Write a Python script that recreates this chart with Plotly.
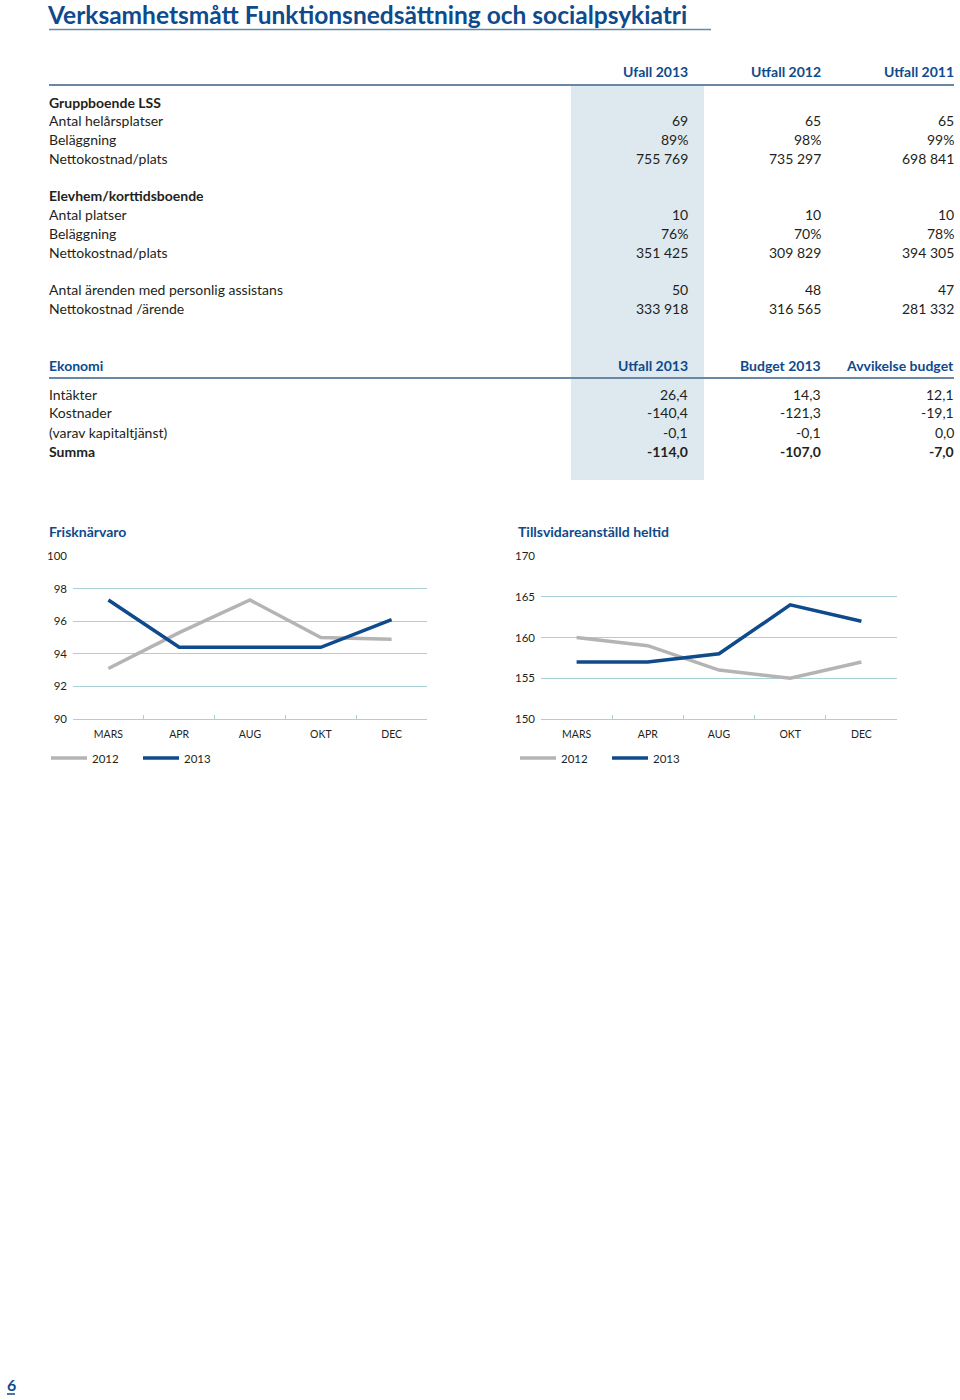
import plotly.graph_objects as go

W, H = 960, 1400
M = 20  # figure margin; all positions below are given in page pixels and converted
BLUE = "#0f4a8c"
GRAY = "#b4b4b4"
GRID = "#a9d0d6"
TEXT = "#231f20"
SHADE = "#dde9ef"
RULE = "#6a88a6"
FONT = "Lato"

# ---------------- data ----------------
title = "Verksamhetsmått Funktionsnedsättning och socialpsykiatri"

table1_header = ["Ufall 2013", "Utfall 2012", "Utfall 2011"]
table1_labels = ["Gruppboende LSS", "Antal helårsplatser", "Beläggning", "Nettokostnad/plats", "",
                 "Elevhem/korttidsboende", "Antal platser", "Beläggning", "Nettokostnad/plats", "",
                 "Antal ärenden med personlig assistans", "Nettokostnad /ärende"]
table1_bold = [True, False, False, False, False, True, False, False, False, False, False, False]
utfall_2013 = ["", "69", "89%", "755 769", "", "", "10", "76%", "351 425", "", "50", "333 918"]
utfall_2012 = ["", "65", "98%", "735 297", "", "", "10", "70%", "309 829", "", "48", "316 565"]
utfall_2011 = ["", "65", "99%", "698 841", "", "", "10", "78%", "394 305", "", "47", "281 332"]

table2_header = ["Ekonomi", "Utfall 2013", "Budget 2013", "Avvikelse budget"]
table2_labels = ["Intäkter", "Kostnader", "(varav kapitaltjänst)", "Summa"]
table2_bold = [False, False, False, True]
eko_utfall = ["26,4", "-140,4", "-0,1", "-114,0"]
eko_budget = ["14,3", "-121,3", "-0,1", "-107,0"]
eko_avvik = ["12,1", "-19,1", "0,0", "-7,0"]

months = ["MARS", "APR", "AUG", "OKT", "DEC"]
frisk_2012 = [93.1, 95.3, 97.3, 95.0, 94.9]
frisk_2013 = [97.3, 94.4, 94.4, 94.4, 96.1]
tills_2012 = [160, 159, 156, 155, 157]
tills_2013 = [157, 157, 158, 164, 162]

chart_titles = ["Frisknärvaro", "Tillsvidareanställd heltid"]

# ---------------- helpers ----------------
def px(x):
    return (x - M) / (W - 2 * M)

def py(y):
    return 1 - (y - M) / (H - 2 * M)

fig = go.Figure()
annotations = []
shapes = []

def text(x, y, s, anchor="left", size=14, color=TEXT, bold=False):
    annotations.append(dict(
        x=px(x), y=py(y), xref="paper", yref="paper", text=("<b>%s</b>" % s) if bold else s,
        showarrow=False, xanchor=anchor, yanchor="middle", borderpad=0,
        font=dict(family=FONT, size=size, color=color)))

def hline(x0, x1, y, color, width):
    shapes.append(dict(type="line", xref="paper", yref="paper", x0=px(x0), x1=px(x1),
                       y0=py(y), y1=py(y), line=dict(color=color, width=width)))

# title underline
hline(49, 711, 29.5, RULE, 1.5)

# shaded column
shapes.append(dict(type="rect", xref="paper", yref="paper", x0=px(571), x1=px(704),
                   y0=py(480), y1=py(86), fillcolor=SHADE, line=dict(width=0), layer="below"))

col_right = [689, 822, 955]

# table 1
for j, h in enumerate(table1_header):
    text(col_right[j], 72, h, anchor="right", color=BLUE, bold=True)
hline(49, 954, 85, RULE, 2)
row0, step = 102, 18.8
for i, lab in enumerate(table1_labels):
    y = row0 + i * step
    if lab:
        text(48, y, lab, bold=table1_bold[i])
    for j, col in enumerate([utfall_2013, utfall_2012, utfall_2011]):
        if col[i]:
            text(col_right[j], y, col[i], anchor="right")

# table 2
text(48, 365, table2_header[0], color=BLUE, bold=True)
for j, h in enumerate(table2_header[1:]):
    text(col_right[j], 365, h, anchor="right", color=BLUE, bold=True)
hline(49, 954, 378, RULE, 2)
for i, lab in enumerate(table2_labels):
    y = 394 + i * 19
    text(48, y, lab, bold=table2_bold[i])
    for j, col in enumerate([eko_utfall, eko_budget, eko_avvik]):
        text(col_right[j], y, col[i], anchor="right", bold=table2_bold[i])

# chart titles
text(48, 531, chart_titles[0], color=BLUE, bold=True)
text(517, 531, chart_titles[1], color=BLUE, bold=True)

# page number
text(11, 1384, "6", anchor="center", size=16, color=BLUE, bold=True)
hline(7, 15, 1394, BLUE, 1.5)

# ---------------- charts ----------------
series = [
    ("x", "y", "legend", frisk_2012, frisk_2013),
    ("x2", "y2", "legend2", tills_2012, tills_2013),
]
for xa, ya, lg, s12, s13 in series:
    fig.add_trace(go.Scatter(x=months, y=s12, mode="lines", name="2012", xaxis=xa, yaxis=ya,
                             legend=lg, line=dict(color=GRAY, width=3.5)))
    fig.add_trace(go.Scatter(x=months, y=s13, mode="lines", name="2013", xaxis=xa, yaxis=ya,
                             legend=lg, line=dict(color=BLUE, width=3.5)))

ydom = [py(719), py(556)]
xcommon = dict(type="category", showgrid=False, showline=True, linecolor=GRID, linewidth=1,
               ticks="inside", tickson="boundaries", ticklen=4, tickcolor=GRID,
               tickfont=dict(family=FONT, size=10.5, color=TEXT), ticklabelstandoff=5,
               range=[-0.5, 4.5], fixedrange=True)
ycommon = dict(showgrid=True, gridcolor=GRID, gridwidth=1, zeroline=False, showline=False,
               ticks="", tickfont=dict(family=FONT, size=11.5, color=TEXT), ticklabelstandoff=5,
               fixedrange=True)

legcommon = dict(orientation="h", yanchor="middle", xanchor="left", bgcolor="rgba(0,0,0,0)",
                 font=dict(family=FONT, size=11.5, color=TEXT), entrywidth=41, entrywidthmode="pixels",
                 itemwidth=36)

fig.update_layout(
    width=W, height=H, margin=dict(l=M, r=M, t=M, b=M),
    paper_bgcolor="white", plot_bgcolor="white",
    title=dict(text="<b>%s</b>" % title, xref="container", yref="container",
               x=48 / W, y=1 - 15.5 / H, xanchor="left", yanchor="middle",
               font=dict(family=FONT, size=24.5, color=BLUE), automargin=False),
    xaxis=dict(domain=[px(73), px(427)], anchor="y", **xcommon),
    yaxis=dict(domain=ydom, anchor="x", range=[90, 100], dtick=2, tick0=90, **ycommon),
    xaxis2=dict(domain=[px(541), px(897)], anchor="y2", **xcommon),
    yaxis2=dict(domain=ydom, anchor="x2", range=[150, 170], dtick=5, tick0=150, **ycommon),
    legend=dict(x=px(46), y=py(758), **legcommon),
    legend2=dict(x=px(515), y=py(758), **legcommon),
    annotations=annotations,
    shapes=shapes,
    showlegend=True,
)

fig.write_html("out.html", config={"displayModeBar": False},
               post_script="document.body.style.margin='0';document.body.style.padding='0';")
